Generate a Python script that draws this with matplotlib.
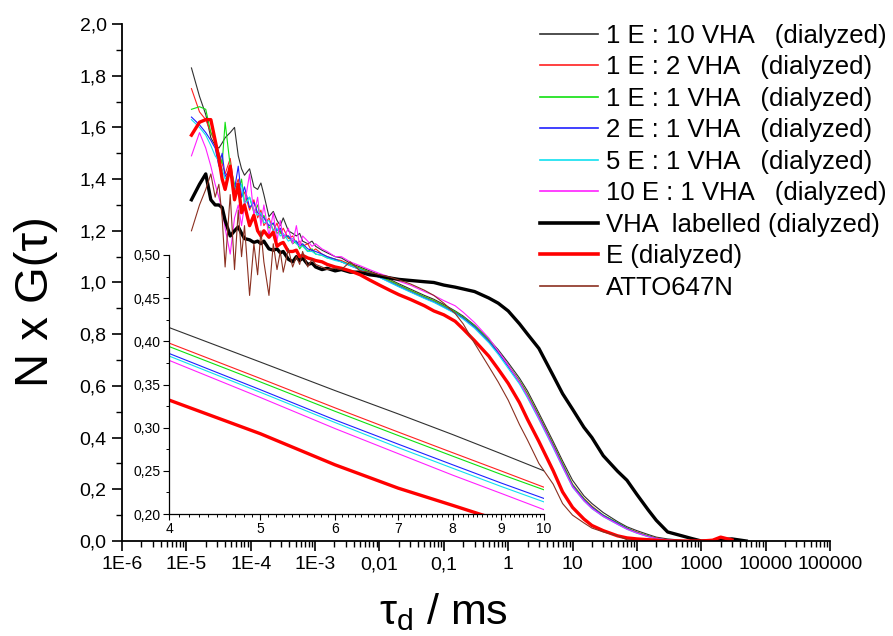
import matplotlib
matplotlib.use("Agg")
import matplotlib.pyplot as plt
import numpy as np
from matplotlib.ticker import (FixedLocator, FuncFormatter, LogLocator,
                               MultipleLocator, NullFormatter)

# lag times (ms) shared by all measured curves
tau_ms = [1.2e-5, 1.6e-5, 2.0e-5, 2.4e-5, 2.8e-5, 3.2e-5, 3.6e-5, 4.0e-5,
          4.8e-5, 5.6e-5, 6.4e-5, 7.2e-5, 8.0e-5, 9.6e-5, 1.12e-4, 1.28e-4,
          1.44e-4, 1.6e-4, 1.92e-4, 2.24e-4, 2.56e-4, 2.88e-4, 3.2e-4,
          3.84e-4, 4.48e-4, 5.12e-4, 5.76e-4, 6.4e-4, 7.68e-4, 8.96e-4,
          1.02e-3, 1.28e-3, 1.54e-3, 2.05e-3, 2.56e-3, 3.5e-3, 5e-3, 7e-3,
          0.01, 0.015, 0.02, 0.03, 0.05, 0.07, 0.1, 0.15, 0.2, 0.3, 0.5, 0.7,
          1, 1.5, 2, 3, 5, 7, 10, 15, 20, 30, 50, 70, 100, 150, 200, 300,
          500, 700, 1000, 1500, 2000, 3000, 5000]

nan = np.nan

g_1e_10vha = [1.83, 1.72, 1.65, 1.56, 1.53, 1.52, 1.54, 1.56, 1.58, 1.60,
              1.49, 1.44, 1.415, 1.44, 1.37, 1.36, 1.385, 1.34, 1.255, 1.275,
              1.24, 1.22, 1.25, 1.20, 1.19, 1.18, 1.19, 1.16, 1.15, 1.16,
              1.14, 1.125, 1.115, 1.10, 1.095, 1.075, 1.06, 1.045, 1.03,
              1.01, 0.995, 0.975, 0.95, 0.935, 0.915, 0.89, 0.87, 0.835, 0.78,
              0.74, 0.69, 0.63, 0.58, 0.495, 0.385, 0.31, 0.235, 0.175, 0.145,
              0.11, 0.075, 0.055, 0.04, 0.025, 0.015, 0.008, 0.003, 0.0, 0.0,
              nan, nan, nan, nan]
g_1e_2vha = [1.75, 1.66, 1.63, 1.58, 1.54, 1.50, 1.46, 1.42, 1.48, 1.36,
             1.40, 1.33, 1.35, 1.28, 1.32, 1.25, 1.28, 1.22, 1.25, 1.20,
             1.23, 1.19, 1.21, 1.17, 1.18, 1.15, 1.16, 1.14, 1.15, 1.12,
             1.13, 1.11, 1.10, 1.09, 1.085, 1.07, 1.055, 1.04, 1.025,
             1.005, 0.99, 0.97, 0.945, 0.93, 0.91, 0.885, 0.865, 0.83, 0.775,
             0.73, 0.68, 0.62, 0.57, 0.485, 0.375, 0.30, 0.22, 0.165, 0.135,
             0.10, 0.07, 0.05, 0.035, 0.02, 0.012, 0.005, 0.0, 0.0, 0.0,
             nan, nan, nan, nan]
g_1e_1vha = [1.67, 1.68, 1.67, 1.58, 1.55, 1.50, 1.46, 1.62, 1.45, 1.38,
             1.35, 1.40, 1.31, 1.33, 1.27, 1.30, 1.24, 1.26, 1.21, 1.23,
             1.19, 1.20, 1.17, 1.18, 1.15, 1.16, 1.13, 1.145, 1.12, 1.13,
             1.11, 1.105, 1.095, 1.09, 1.08, 1.07, 1.055, 1.04, 1.025,
             1.005, 0.99, 0.97, 0.945, 0.93, 0.91, 0.887, 0.866, 0.832, 0.778,
             0.733, 0.68, 0.62, 0.568, 0.483, 0.373, 0.298, 0.218, 0.163,
             0.132, 0.10, 0.07, 0.05, 0.033, 0.02, 0.01, 0.004, 0.0, 0.0, 0.0,
             nan, nan, nan, nan]
g_2e_1vha = [1.64, 1.61, 1.58, 1.55, 1.52, 1.45, 1.50, 1.41, 1.44, 1.36,
             1.45, 1.33, 1.37, 1.29, 1.31, 1.27, 1.26, 1.25, 1.22, 1.23,
             1.20, 1.21, 1.18, 1.18, 1.16, 1.16, 1.14, 1.15, 1.13, 1.125,
             1.12, 1.11, 1.10, 1.09, 1.08, 1.065, 1.05, 1.035, 1.02,
             1.0, 0.985, 0.965, 0.94, 0.925, 0.905, 0.882, 0.862, 0.828,
             0.772, 0.728, 0.675, 0.613, 0.56, 0.478, 0.368, 0.292, 0.214,
             0.16, 0.13, 0.098, 0.068, 0.048, 0.032, 0.018, 0.01, 0.004, 0.0,
             0.0, 0.0, nan, nan, nan, nan]
g_5e_1vha = [1.63, 1.60, 1.57, 1.53, 1.49, 1.47, 1.44, 1.40, 1.43, 1.37,
             1.35, 1.38, 1.30, 1.33, 1.28, 1.26, 1.27, 1.23, 1.24, 1.20,
             1.21, 1.18, 1.19, 1.16, 1.17, 1.15, 1.14, 1.14, 1.12, 1.12,
             1.11, 1.105, 1.095, 1.085, 1.08, 1.065, 1.05, 1.035, 1.02,
             0.998, 0.983, 0.963, 0.938, 0.923, 0.903, 0.88, 0.858, 0.823,
             0.767, 0.722, 0.668, 0.607, 0.553, 0.47, 0.36, 0.285, 0.208,
             0.155, 0.125, 0.094, 0.064, 0.045, 0.03, 0.016, 0.009, 0.003, 0.0,
             0.0, 0.0, nan, nan, nan, nan]
g_10e_1vha = [1.49, 1.58, 1.52, 1.45, 1.38, 1.33, 1.28, 1.21, 1.11, 1.25,
              1.30, 1.22, 1.30, 1.42, 1.26, 1.33, 1.22, 1.30, 1.18, 1.27,
              1.16, 1.24, 1.17, 1.21, 1.15, 1.22, 1.14, 1.18, 1.16, 1.14,
              1.15, 1.13, 1.12, 1.10, 1.10, 1.08, 1.065, 1.05, 1.035,
              1.02, 1.005, 0.99, 0.965, 0.95, 0.93, 0.91, 0.885, 0.845, 0.785,
              0.735, 0.68, 0.615, 0.56, 0.475, 0.365, 0.288, 0.21, 0.156,
              0.126, 0.095, 0.065, 0.046, 0.031, 0.017, 0.009, 0.004, 0.0, 0.0,
              0.0, nan, nan, nan, nan]
g_vha_labelled = [1.32, 1.38, 1.42, 1.32, 1.30, 1.30, 1.29, 1.24, 1.18, 1.20,
                  1.215, 1.19, 1.17, 1.165, 1.155, 1.16, 1.15, 1.16, 1.13,
                  1.125, 1.13, 1.115, 1.12, 1.09, 1.08, 1.10, 1.085, 1.095,
                  1.07, 1.075, 1.06, 1.05, 1.055, 1.045, 1.05, 1.04, 1.04,
                  1.03, 1.025, 1.017, 1.012, 1.008, 1.003, 1.0, 0.99, 0.982,
                  0.975, 0.965, 0.94, 0.92, 0.89, 0.84, 0.80, 0.745, 0.64,
                  0.57, 0.51, 0.44, 0.40, 0.33, 0.27, 0.235, 0.18, 0.12, 0.08,
                  0.035, 0.02, 0.01, 0.0, 0.0, 0.005, 0.008, 0.0]
g_e = [1.57, 1.62, 1.63, 1.63, 1.55, 1.48, 1.40, 1.36, 1.45, 1.32,
       1.38, 1.27, 1.30, 1.22, 1.26, 1.20, 1.18, 1.20, 1.175, 1.195,
       1.14, 1.15, 1.155, 1.12, 1.12, 1.125, 1.10, 1.105, 1.095, 1.09,
       1.085, 1.08, 1.07, 1.06, 1.055, 1.045, 1.03, 1.01, 0.99,
       0.968, 0.953, 0.935, 0.91, 0.89, 0.875, 0.85, 0.82, 0.775, 0.715,
       0.665, 0.61, 0.535, 0.47, 0.385, 0.272, 0.19, 0.13, 0.085, 0.06,
       0.04, 0.02, 0.012, 0.008, 0.005, 0.003, 0.0, 0.0, 0.0, 0.0, 0.003,
       0.015, 0.004, nan]
g_atto647n = [1.20, 1.30, 1.36, 1.42, 1.33, 1.38, 1.25, 1.06, 1.34, 1.05,
              1.28, 1.10, 1.22, 0.95, 1.15, 1.03, 1.20, 1.08, 0.95, 1.15,
              1.05, 1.12, 1.04, 1.13, 1.06, 1.10, 1.07, 1.12, 1.06, 1.09,
              1.07, 1.06, 1.05, 1.055, 1.05, 1.08, 1.045, 1.04, 1.03,
              1.02, 1.01, 0.995, 0.97, 0.95, 0.92, 0.88, 0.84, 0.765, 0.675,
              0.615, 0.545, 0.45, 0.39, 0.30, 0.22, 0.145, 0.10, 0.07, 0.05,
              0.035, 0.02, 0.005, 0.0, nan, nan, nan, nan, nan, nan, nan, nan,
              nan, nan]

# inset: zoom on 4..10 ms
inset_tau = [4, 5, 6, 7, 8, 9, 10]
inset_1e_10vha = [0.416, 0.376, 0.343, 0.316, 0.292, 0.270, 0.250]
inset_1e_2vha = [0.398, 0.357, 0.323, 0.295, 0.271, 0.250, 0.231]
inset_1e_1vha = [0.394, 0.353, 0.319, 0.291, 0.267, 0.246, 0.228]
inset_2e_1vha = [0.386, 0.344, 0.309, 0.281, 0.257, 0.236, 0.218]
inset_5e_1vha = [0.383, 0.341, 0.306, 0.277, 0.253, 0.232, 0.214]
inset_10e_1vha = [0.378, 0.335, 0.299, 0.270, 0.245, 0.224, 0.205]
inset_e = [0.332, 0.293, 0.257, 0.230, 0.210, 0.192, 0.176]

labels = ["1 E : 10 VHA   (dialyzed)", "1 E : 2 VHA   (dialyzed)",
          "1 E : 1 VHA   (dialyzed)", "2 E : 1 VHA   (dialyzed)",
          "5 E : 1 VHA   (dialyzed)", "10 E : 1 VHA   (dialyzed)",
          "VHA  labelled (dialyzed)", "E (dialyzed)", "ATTO647N"]
colors = ["#303030", "#ff2020", "#10e010", "#2020ff", "#10e0f0", "#ff20ff",
          "#000000", "#ff0000", "#8b3020"]
widths = [0.8, 0.8, 0.8, 0.8, 0.8, 0.8, 2.4, 2.4, 0.8]

x_major = [1e-6, 1e-5, 1e-4, 1e-3, 1e-2, 1e-1, 1, 10, 100, 1000, 1e4, 1e5]
x_labels = ["1E-6", "1E-5", "1E-4", "1E-3", "0,01", "0,1", "1", "10", "100",
            "1000", "10000", "100000"]

plt.rcParams["font.family"] = ["Liberation Sans", "DejaVu Sans"]

comma = FuncFormatter(lambda v, p: f"{v:.1f}".replace(".", ","))
comma2 = FuncFormatter(lambda v, p: f"{v:.2f}".replace(".", ","))

fig = plt.figure(figsize=(8.93, 6.36), dpi=100)
ax = fig.add_axes([122 / 893, 1 - 541 / 636, 708 / 893, 517 / 636])

series = [g_1e_10vha, g_1e_2vha, g_1e_1vha, g_2e_1vha, g_5e_1vha,
          g_10e_1vha, g_vha_labelled, g_e, g_atto647n]
for ys, lab, c, w in zip(series, labels, colors, widths):
    ax.plot(tau_ms, ys, color=c, lw=w, label=lab)

ax.set_xscale("log")
ax.set_xlim(1e-6, 1e5)
ax.set_ylim(0, 2.0)
ax.xaxis.set_major_locator(FixedLocator(x_major))
ax.set_xticklabels(x_labels)
ax.xaxis.set_minor_locator(LogLocator(base=10, subs=(2, 3, 4, 5, 6, 7, 8, 9), numticks=60))
ax.xaxis.set_minor_formatter(NullFormatter())
ax.yaxis.set_major_locator(MultipleLocator(0.2))
ax.yaxis.set_minor_locator(MultipleLocator(0.1))
ax.yaxis.set_major_formatter(comma)
for s in ["top", "right"]:
    ax.spines[s].set_visible(False)
for s in ["left", "bottom"]:
    ax.spines[s].set_linewidth(1.3)
ax.tick_params(which="major", direction="out", length=7, width=1.2, labelsize=14, pad=4)
ax.tick_params(which="minor", direction="out", length=4, width=1.0)
ax.patch.set_visible(False)

leg = ax.legend(loc="upper left", bbox_to_anchor=(540 / 893, 1 - 24 / 636),
                bbox_transform=fig.transFigure, frameon=False, fontsize=18.5,
                borderpad=0, borderaxespad=0, handlelength=2.25,
                handletextpad=0.3, labelspacing=0.29)
for line, w in zip(leg.get_lines(), widths):
    line.set_linewidth(1.2 if w < 1 else 2.6)

fig.text(36 / 893, 1 - 302 / 636, "N x G(\u03c4)", rotation=90, fontsize=34,
         ha="center", va="center")
fig.text(443 / 893, 1 - 624 / 636, r"$\mathregular{\tau_d}$ / ms", fontsize=31,
         ha="center", va="baseline")

# inset
ins = fig.add_axes([169 / 893, 1 - 514 / 636, 375 / 893, 259 / 636])
inset_series = [inset_1e_10vha, inset_1e_2vha, inset_1e_1vha, inset_2e_1vha,
                inset_5e_1vha, inset_10e_1vha, inset_e]
inset_colors = colors[:6] + [colors[7]]
inset_widths = widths[:6] + [widths[7]]
for ys, c, w in zip(inset_series, inset_colors, inset_widths):
    ins.plot(inset_tau, ys, color=c, lw=w)
ins.set_xscale("log")
ins.set_xlim(4, 10)
ins.set_ylim(0.2, 0.5)
ins.xaxis.set_major_locator(FixedLocator(inset_tau))
ins.set_xticklabels([str(t) for t in inset_tau])
ins.xaxis.set_minor_locator(MultipleLocator(0.1))
ins.xaxis.set_minor_formatter(NullFormatter())
ins.yaxis.set_major_locator(MultipleLocator(0.05))
ins.yaxis.set_minor_locator(MultipleLocator(0.025))
ins.yaxis.set_major_formatter(comma2)
for s in ["top", "right"]:
    ins.spines[s].set_visible(False)
for s in ["left", "bottom"]:
    ins.spines[s].set_linewidth(0.9)
ins.tick_params(which="major", direction="out", length=4, width=0.8, labelsize=10, pad=2)
ins.tick_params(which="minor", direction="out", length=2.5, width=0.7)
ins.patch.set_visible(False)

fig.savefig("out.png", dpi=100)
